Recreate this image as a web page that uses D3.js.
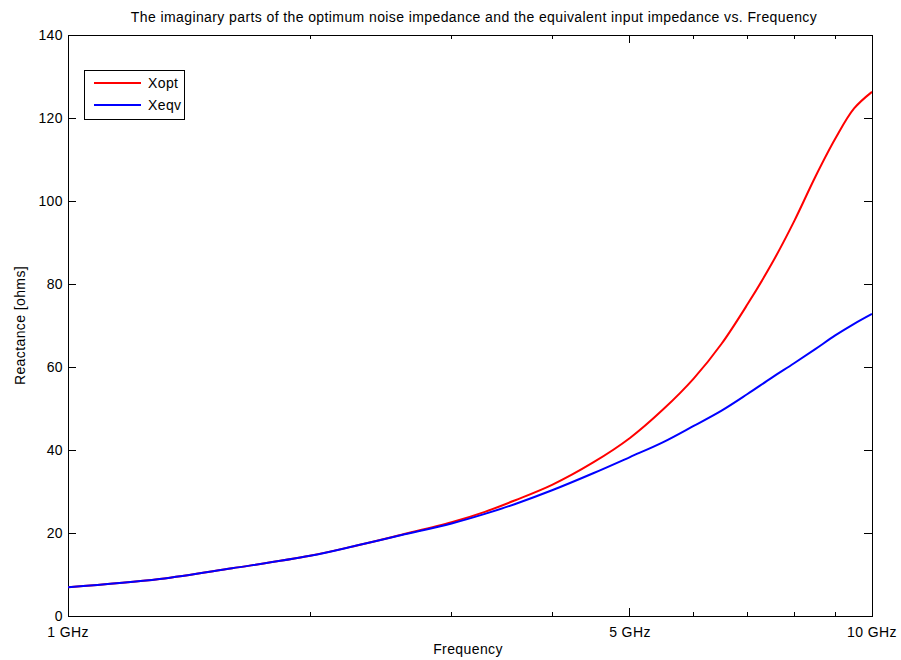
<!DOCTYPE html>
<html>
<head>
<meta charset="utf-8">
<script src="https://cdn.jsdelivr.net/npm/d3@7"></script>
<style>
  html, body { margin: 0; padding: 0; background: #fff; }
  svg text { font-family: "Liberation Sans", Arial, Helvetica, sans-serif; fill: #000; letter-spacing: 0.4px; }
</style>
</head>
<body>
<svg id="chart" width="901" height="660"></svg>
<script>
// Frequency samples (GHz)
const freqGHz = [1, 1.3, 1.6, 2, 2.3, 2.6, 3, 3.3, 3.6, 4, 4.5, 5, 5.5, 6, 6.5, 7, 7.5, 8, 8.5, 9, 9.5, 10];
// Imaginary part of optimum noise impedance (ohms)
const xopt = [6.9, 8.9, 11.5, 14.5, 17.1, 19.6, 22.6, 25.1, 27.9, 31.6, 37.0, 42.9, 49.8, 57.2, 65.6, 75.1, 84.8, 95.1, 105.8, 115.0, 122.3, 126.3];
// Imaginary part of equivalent input impedance (ohms)
const xeqv = [6.9, 8.9, 11.5, 14.5, 17.1, 19.5, 22.3, 24.6, 27.0, 30.3, 34.4, 38.3, 41.9, 45.8, 49.5, 53.5, 57.4, 60.9, 64.3, 67.6, 70.4, 72.8];

const seriesNames = ["Xopt", "Xeqv"];
const seriesColors = ["#ff0000", "#0000ff"];

const xMajorTicks = [1, 5, 10];
const xMajorLabels = ["1 GHz", "5 GHz", "10 GHz"];
const xMinorTicks = [2, 3, 4, 6, 7, 8, 9];
const yTicks = [0, 20, 40, 60, 80, 100, 120, 140];

const titleText = "The imaginary parts of the optimum noise impedance and the equivalent input impedance vs. Frequency";
const xLabel = "Frequency";
const yLabel = "Reactance [ohms]";

const svg = d3.select("#chart");
const plot = { left: 68, right: 872, top: 35, bottom: 616 };

const x = d3.scaleLog().domain([1, 10]).range([plot.left, plot.right]);
const y = d3.scaleLinear().domain([0, 140]).range([plot.bottom, plot.top]);

const majorLen = 8, minorLen = 4;
const fs = 14;

// axes box
svg.append("rect")
  .attr("x", plot.left).attr("y", plot.top)
  .attr("width", plot.right - plot.left).attr("height", plot.bottom - plot.top)
  .attr("fill", "none").attr("stroke", "#000").attr("stroke-width", 1)
  .attr("shape-rendering", "crispEdges");

// inward ticks on all four sides
const tickG = svg.append("g").attr("stroke", "#000").attr("stroke-width", 1).attr("shape-rendering", "crispEdges");
function xTick(v, len) {
  tickG.append("line").attr("x1", x(v)).attr("x2", x(v)).attr("y1", plot.bottom).attr("y2", plot.bottom - len);
  tickG.append("line").attr("x1", x(v)).attr("x2", x(v)).attr("y1", plot.top).attr("y2", plot.top + len);
}
xMajorTicks.forEach(v => xTick(v, majorLen));
xMinorTicks.forEach(v => xTick(v, minorLen));
yTicks.forEach(v => {
  tickG.append("line").attr("x1", plot.left).attr("x2", plot.left + majorLen).attr("y1", y(v)).attr("y2", y(v));
  tickG.append("line").attr("x1", plot.right).attr("x2", plot.right - majorLen).attr("y1", y(v)).attr("y2", y(v));
});

// tick labels
svg.append("g").selectAll("text").data(yTicks).join("text")
  .attr("x", plot.left - 5).attr("y", d => y(d)).attr("dy", "0.35em")
  .attr("text-anchor", "end").attr("font-size", fs)
  .text(d => d);
svg.append("g").selectAll("text").data(xMajorTicks).join("text")
  .attr("x", d => x(d)).attr("y", plot.bottom + 21)
  .attr("text-anchor", "middle").attr("font-size", fs)
  .text((d, i) => xMajorLabels[i]);

// axis titles
svg.append("text").attr("x", (plot.left + plot.right) / 2 - 2).attr("y", 654)
  .attr("text-anchor", "middle").attr("font-size", fs).text(xLabel);
svg.append("text").attr("transform", `translate(25,${(plot.top + plot.bottom) / 2}) rotate(-90)`)
  .attr("text-anchor", "middle").attr("font-size", fs).text(yLabel);
svg.append("text").attr("x", (plot.left + plot.right) / 2 + 4).attr("y", 22)
  .attr("text-anchor", "middle").attr("font-size", fs).text(titleText);

// curves
const line = d3.line().x(d => x(d[0])).y(d => y(d[1])).curve(d3.curveCatmullRom.alpha(0.5));
const series = [xopt, xeqv];
svg.append("clipPath").attr("id", "clip").append("rect")
  .attr("x", plot.left).attr("y", plot.top).attr("width", plot.right - plot.left).attr("height", plot.bottom - plot.top);
series.forEach((vals, i) => {
  svg.append("path")
    .datum(freqGHz.map((f, j) => [f, vals[j]]))
    .attr("d", line)
    .attr("fill", "none")
    .attr("stroke", seriesColors[i])
    .attr("stroke-width", 2)
    .attr("clip-path", "url(#clip)");
});

// legend
const lg = svg.append("g");
lg.append("rect").attr("x", 84.5).attr("y", 70.5).attr("width", 100).attr("height", 49)
  .attr("fill", "#fff").attr("stroke", "#000").attr("stroke-width", 1);
seriesNames.forEach((name, i) => {
  const ly = 83 + i * 22;
  lg.append("line").attr("x1", 94).attr("x2", 141).attr("y1", ly).attr("y2", ly)
    .attr("stroke", seriesColors[i]).attr("stroke-width", 2);
  lg.append("text").attr("x", 148).attr("y", ly).attr("dy", "0.35em")
    .attr("font-size", fs).text(name);
});
</script>
</body>
</html>
